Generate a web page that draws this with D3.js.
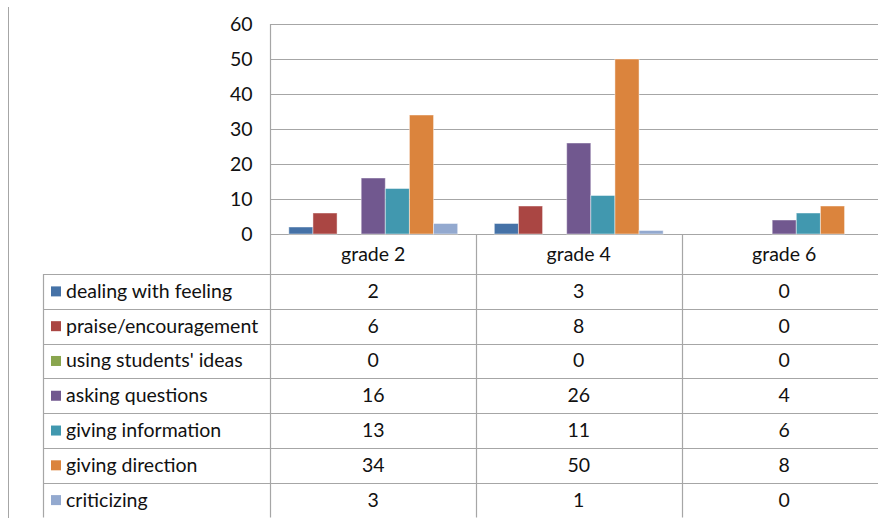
<!DOCTYPE html>
<html>
<head>
<script src="https://d3js.org/d3.v7.min.js"></script>
<style>
  body { margin: 0; background: #fff; }
  text { font-family: Lato, "Open Sans", sans-serif; fill: #111; }
</style>
</head>
<body>
<script>
var grades = ["grade 2", "grade 4", "grade 6"];
var series = ["dealing with feeling", "praise/encouragement", "using students' ideas",
              "asking questions", "giving information", "giving direction", "criticizing"];
var dealingWithFeeling = [2, 3, 0];
var praiseEncouragement = [6, 8, 0];
var usingStudentsIdeas = [0, 0, 0];
var askingQuestions = [16, 26, 4];
var givingInformation = [13, 11, 6];
var givingDirection = [34, 50, 8];
var criticizing = [3, 1, 0];
var yTicks = [0, 10, 20, 30, 40, 50, 60];

var values = [dealingWithFeeling, praiseEncouragement, usingStudentsIdeas,
              askingQuestions, givingInformation, givingDirection, criticizing];
var colors = ["#4572A7", "#AA4643", "#89A54E", "#71588F", "#4198AF", "#DB843D", "#93A9CF"];

var width = 878, height = 518;
var plotLeft = 270.5, plotRight = 887, plotTop = 24, plotBottom = 234;
var tableTop = 274, tableBottom = 517.5, tableLeft = 43.5;
var gridColor = "#a6a6a6";
var fontSize = "19.5px";

var svg = d3.select("body").append("svg")
  .attr("width", width)
  .attr("height", height);

var y = d3.scaleLinear().domain([0, 60]).range([plotBottom, plotTop]);
var x0 = d3.scaleBand().domain(grades).range([plotLeft, plotRight]);
var x1 = d3.scaleBand().domain(series).range([0, x0.bandwidth()])
  .paddingInner(0).paddingOuter(0.76);
var rows = d3.scaleBand().domain(series).range([tableTop, tableBottom]);
var color = d3.scaleOrdinal().domain(series).range(colors);

// outer left line
svg.append("line")
  .attr("x1", 8.5).attr("x2", 8.5).attr("y1", 7).attr("y2", height)
  .attr("stroke", gridColor);

// y axis with gridlines
var yAxis = svg.append("g")
  .attr("transform", "translate(" + plotLeft + ",0)")
  .call(d3.axisLeft(y).tickValues(yTicks).tickSize(-(plotRight - plotLeft)).tickPadding(18));
yAxis.select(".domain").remove();
yAxis.selectAll(".tick line").attr("stroke", gridColor).attr("stroke-width", 1.2);
yAxis.selectAll(".tick text")
  .style("font-family", "Lato, sans-serif")
  .style("font-size", fontSize)
  .attr("fill", "#111");

// bars
var groups = svg.append("g").selectAll("g")
  .data(grades)
  .enter().append("g")
  .attr("transform", function(d) { return "translate(" + x0(d) + ",0)"; });

groups.selectAll("rect")
  .data(function(g, gi) {
    return series.map(function(s, si) { return {series: s, value: values[si][gi]}; });
  })
  .enter().append("rect")
  .filter(function(d) { return d.value > 0; })
  .attr("x", function(d) { return x1(d.series); })
  .attr("width", x1.bandwidth())
  .attr("y", function(d) { return y(d.value); })
  .attr("height", function(d) { return y(0) - y(d.value); })
  .attr("fill", function(d) { return color(d.series); })
  .attr("stroke", "#ffffff")
  .attr("stroke-opacity", 0.45)
  .attr("stroke-width", 1);

// plot left axis line
svg.append("line")
  .attr("x1", plotLeft).attr("x2", plotLeft)
  .attr("y1", plotTop).attr("y2", tableBottom)
  .attr("stroke", gridColor).attr("stroke-width", 1.2);

// category separators, continuing as table columns
var colEdges = grades.map(function(g) { return x0(g) + x0.bandwidth(); });
svg.append("g").selectAll("line")
  .data(colEdges)
  .enter().append("line")
  .attr("x1", function(d) { return Math.round(d) + 0.5; })
  .attr("x2", function(d) { return Math.round(d) + 0.5; })
  .attr("y1", plotBottom)
  .attr("y2", tableBottom)
  .attr("stroke", gridColor)
  .attr("stroke-width", 1.2);

// category labels
svg.append("g").selectAll("text")
  .data(grades)
  .enter().append("text")
  .attr("x", function(d) { return x0(d) + x0.bandwidth() / 2; })
  .attr("y", 261)
  .attr("text-anchor", "middle")
  .style("font-size", fontSize)
  .text(function(d) { return d; });

// table horizontal lines
var rowEdges = [tableTop].concat(series.map(function(s) { return rows(s) + rows.bandwidth(); }));
svg.append("g").selectAll("line")
  .data(rowEdges)
  .enter().append("line")
  .attr("x1", tableLeft)
  .attr("x2", width)
  .attr("y1", function(d) { return Math.round(d) + 0.5; })
  .attr("y2", function(d) { return Math.round(d) + 0.5; })
  .attr("stroke", gridColor)
  .attr("stroke-width", 1.2);

svg.append("line")
  .attr("x1", tableLeft).attr("x2", tableLeft)
  .attr("y1", tableTop).attr("y2", tableBottom)
  .attr("stroke", gridColor).attr("stroke-width", 1.2);

// legend keys and series names
var rowG = svg.append("g").selectAll("g")
  .data(series)
  .enter().append("g")
  .attr("transform", function(d) { return "translate(0," + rows(d) + ")"; });

rowG.append("rect")
  .attr("x", 51)
  .attr("y", rows.bandwidth() / 2 - 5)
  .attr("width", 10)
  .attr("height", 10)
  .attr("fill", function(d) { return color(d); });

rowG.append("text")
  .attr("x", 66)
  .attr("y", rows.bandwidth() / 2 + 6.5)
  .style("font-size", fontSize)
  .text(function(d) { return d; });

// table values
rowG.each(function(s, si) {
  d3.select(this).selectAll("text.val")
    .data(grades)
    .enter().append("text")
    .attr("class", "val")
    .attr("x", function(g) { return x0(g) + x0.bandwidth() / 2; })
    .attr("y", rows.bandwidth() / 2 + 6.5)
    .attr("text-anchor", "middle")
    .style("font-size", fontSize)
    .text(function(g, gi) { return values[si][gi]; });
});
</script>
</body>
</html>
